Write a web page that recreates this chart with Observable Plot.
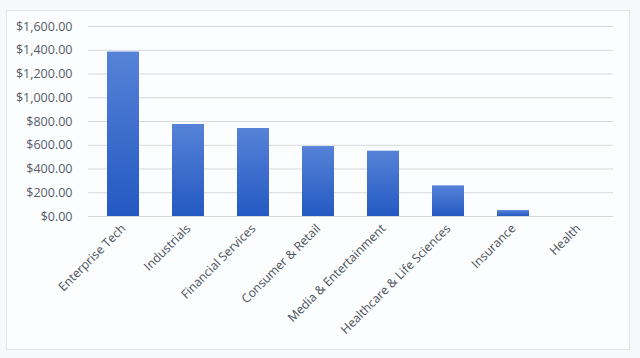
<!DOCTYPE html>
<html>
<head>
<meta charset="utf-8">
<script src="https://cdn.jsdelivr.net/npm/d3@7"></script>
<script src="https://cdn.jsdelivr.net/npm/@observablehq/plot@0.6"></script>
<style>
  html, body { margin: 0; padding: 0; background: #f7f8fa; }
  #wrap { position: relative; width: 640px; height: 358px; }
  #frame { position: absolute; left: 6px; top: 10px; width: 622px; height: 338px; border: 1px solid #e3e6ea; background: #fcfdfe; }
  #chart { position: absolute; left: 0; top: 0; }
</style>
</head>
<body>
<div id="wrap"><div id="frame"></div><div id="chart"></div></div>
<script>
const categories = ["Enterprise Tech", "Industrials", "Financial Services", "Consumer & Retail", "Media & Entertainment", "Healthcare & Life Sciences", "Insurance", "Health"];
const values = [1385, 775, 741, 589, 550, 258, 50, 0];
const yTicks = [0, 200, 400, 600, 800, 1000, 1200, 1400, 1600];

const data = categories.map((c, i) => ({category: c, value: values[i]}));
const fmt = d3.format("$,.2f");

const gradientDefs = () => {
  const defs = d3.create("svg:defs");
  const g = defs.append("linearGradient").attr("id", "barGrad").attr("x1", 0).attr("y1", 0).attr("x2", 0).attr("y2", 1);
  g.append("stop").attr("offset", "0%").attr("stop-color", "#5683d8");
  g.append("stop").attr("offset", "100%").attr("stop-color", "#2459c2");
  return defs.node();
};

const chart = Plot.plot({
  width: 640,
  height: 358,
  marginTop: 26,
  marginLeft: 88,
  marginRight: 27,
  marginBottom: 142,
  style: {background: "transparent", fontFamily: "'Open Sans', 'Noto Sans', sans-serif", fontSize: "12px", color: "#505860"},
  x: {domain: categories, paddingInner: 0.51, paddingOuter: 0.255, label: null},
  y: {domain: [0, 1600], ticks: yTicks, label: null},
  marks: [
    gradientDefs,
    Plot.gridY(yTicks, {stroke: "#d5d9df", strokeOpacity: 1, strokeWidth: 1}),
    Plot.barY(data, {x: "category", y: "value", fill: "url(#barGrad)"}),
    Plot.axisY(yTicks, {tickSize: 0, tickPadding: 16, tickFormat: fmt, fontSize: 12.5, fill: "#555c66"}),
    Plot.axisX({tickSize: 0, tickRotate: -45, tickPadding: 10, fontSize: 12.2, fill: "#4a5058"})
  ]
});
document.getElementById("chart").appendChild(chart);
</script>
</body>
</html>
